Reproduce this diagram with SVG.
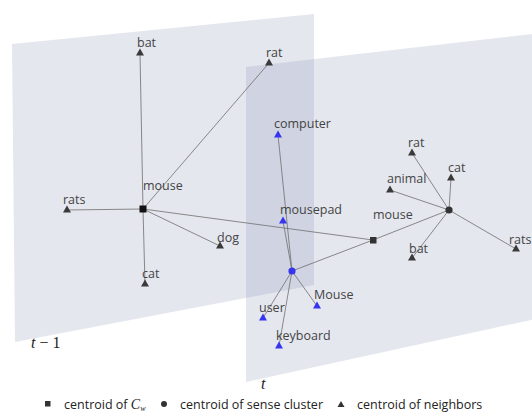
<svg xmlns="http://www.w3.org/2000/svg" width="532" height="412" viewBox="0 0 532 412">
<style>
.plane{fill:#8a93b5;fill-opacity:0.22}
.edge{stroke:#6e6e6e;stroke-width:0.8;fill:none}
.lbl{font-family:"Open Sans","Liberation Sans",sans-serif;font-size:12.5px;fill:#444}
.leg{font-family:"Open Sans","Liberation Sans",sans-serif;font-size:12.5px;fill:#222}
.math{font-family:"Liberation Serif",serif;font-size:16px;fill:#222}
.dk{fill:#3a3a3a}
.bl{fill:#3535f0}
</style>
<defs>
<path id="tri" d="M0,-4.5 L4,2.5 L-4,2.5 Z"/>
</defs>
<g id="planes">
<polygon id="plane-t-1" class="plane" points="12,44 314,14 314,285 15,342"/>
<polygon id="plane-t" class="plane" points="246,67 540,33 540,318 246,382"/>
</g>
<g id="connectors">
<line class="edge" x1="143" y1="209" x2="140" y2="53"/>
<line class="edge" x1="143" y1="209" x2="269" y2="63"/>
<line class="edge" x1="143" y1="209" x2="67" y2="210"/>
<line class="edge" x1="143" y1="209" x2="220" y2="246"/>
<line class="edge" x1="143" y1="209" x2="145" y2="284"/>
<line class="edge" x1="143" y1="209" x2="373" y2="240"/>
<line class="edge" x1="373" y1="240" x2="292" y2="271"/>
<line class="edge" x1="373" y1="240" x2="449" y2="210"/>
<line class="edge" x1="292" y1="271" x2="278" y2="135"/>
<line class="edge" x1="292" y1="271" x2="283" y2="221"/>
<line class="edge" x1="292" y1="271" x2="317" y2="306"/>
<line class="edge" x1="292" y1="271" x2="263" y2="318"/>
<line class="edge" x1="292" y1="271" x2="279" y2="346"/>
<line class="edge" x1="449" y1="210" x2="412" y2="153"/>
<line class="edge" x1="449" y1="210" x2="451" y2="178"/>
<line class="edge" x1="449" y1="210" x2="390" y2="190"/>
<line class="edge" x1="449" y1="210" x2="412" y2="258"/>
<line class="edge" x1="449" y1="210" x2="516" y2="249"/>
</g>
<g id="n-mouse-t1"><rect x="139.5" y="205.5" width="7" height="7" fill="#111"/><text class="lbl" x="143" y="190">mouse</text></g>
<g id="n-bat-t1"><use href="#tri" x="140" y="53" class="dk"/><text class="lbl" x="137" y="47">bat</text></g>
<g id="n-rat-t1"><use href="#tri" x="269" y="63" class="dk"/><text class="lbl" x="266" y="57">rat</text></g>
<g id="n-rats-t1"><use href="#tri" x="67" y="210" class="dk"/><text class="lbl" x="63" y="204">rats</text></g>
<g id="n-dog-t1"><use href="#tri" x="220" y="246" class="dk"/><text class="lbl" x="217" y="242">dog</text></g>
<g id="n-cat-t1"><use href="#tri" x="145" y="284" class="dk"/><text class="lbl" x="142" y="278">cat</text></g>
<g id="n-mouse-t"><rect x="370" y="237" width="6.5" height="6.5" fill="#333"/><text class="lbl" x="373" y="219">mouse</text></g>
<g id="n-sense-blue"><circle cx="292" cy="271" r="3.6" fill="#3535f0"/></g>
<g id="n-sense-dark"><circle cx="449" cy="210" r="3.6" fill="#333"/></g>
<g id="n-computer"><use href="#tri" x="278" y="135" class="bl"/><text class="lbl" x="274" y="128">computer</text></g>
<g id="n-mousepad"><use href="#tri" x="283" y="221" class="bl"/><text class="lbl" x="280" y="214">mousepad</text></g>
<g id="n-Mouse"><use href="#tri" x="317" y="306" class="bl"/><text class="lbl" x="314" y="299">Mouse</text></g>
<g id="n-user"><use href="#tri" x="263" y="318" class="bl"/><text class="lbl" x="259" y="312">user</text></g>
<g id="n-keyboard"><use href="#tri" x="279" y="346" class="bl"/><text class="lbl" x="276" y="340">keyboard</text></g>
<g id="n-rat-t"><use href="#tri" x="412" y="153" class="dk"/><text class="lbl" x="408" y="147">rat</text></g>
<g id="n-cat-t"><use href="#tri" x="451" y="178" class="dk"/><text class="lbl" x="448" y="172">cat</text></g>
<g id="n-animal"><use href="#tri" x="390" y="190" class="dk"/><text class="lbl" x="387" y="183">animal</text></g>
<g id="n-bat-t"><use href="#tri" x="412" y="258" class="dk"/><text class="lbl" x="409" y="253">bat</text></g>
<g id="n-rats-t"><use href="#tri" x="516" y="249" class="dk"/><text class="lbl" x="509" y="244" font-size="12px">rats</text></g>
<g id="plane-labels">
<text class="math" x="31" y="348"><tspan font-style="italic">t</tspan> − 1</text>
<text class="math" x="261" y="389" font-style="italic">t</text>
</g>
<g id="legend">
<rect x="45" y="401" width="5.5" height="5.5" fill="#333"/>
<text class="leg" x="64" y="409">centroid of <tspan font-family="Liberation Serif, serif" font-style="italic" font-size="14px">C</tspan><tspan font-family="Liberation Serif, serif" font-style="italic" font-size="8px" dy="1.5">w</tspan></text>
<circle cx="164" cy="404" r="3" fill="#333"/>
<text class="leg" x="180" y="409">centroid of sense cluster</text>
<path d="M341,401 L344.5,407 L337.5,407 Z" fill="#333"/>
<text class="leg" x="357" y="409">centroid of neighbors</text>
</g>
</svg>
